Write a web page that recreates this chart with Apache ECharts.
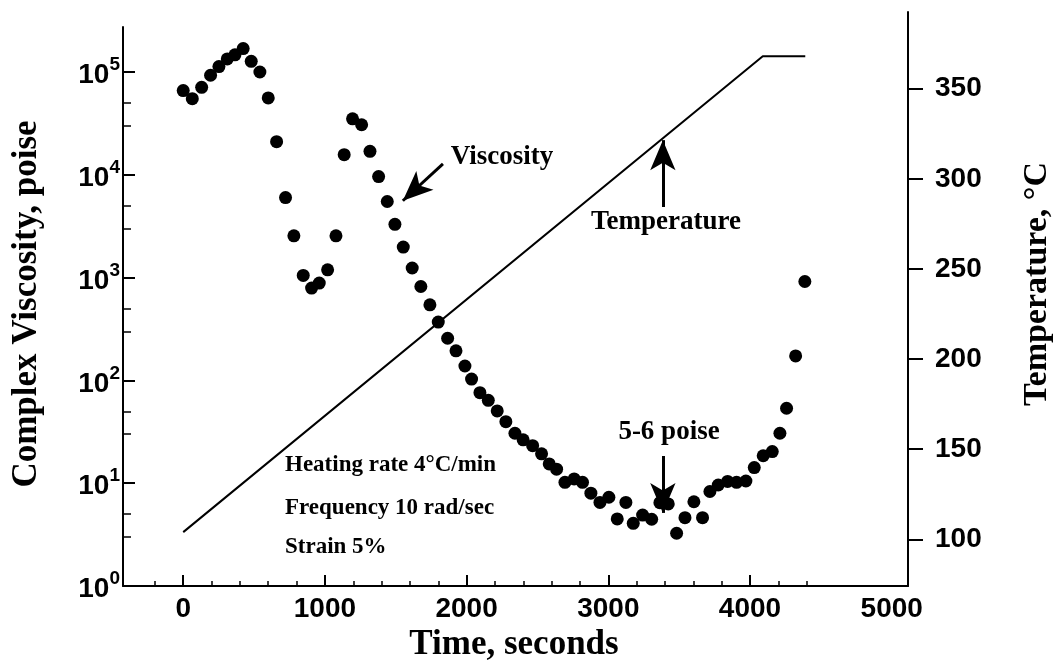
<!DOCTYPE html>
<html>
<head>
<meta charset="utf-8">
<script src="https://cdn.jsdelivr.net/npm/echarts@6/dist/echarts.min.js"></script>
<style>
html,body{margin:0;padding:0;background:#fff;}
#chart{width:1057px;height:670px;}
</style>
</head>
<body>
<div id="chart"></div>
<script>
// ---- data ----
const times = [0,64,130,193,252,311,365,423,480,541,600,659,722,781,847,906,960,1019,1078,1136,1195,1259,1318,1379,1440,1494,1553,1616,1677,1741,1800,1866,1925,1988,2035,2094,2153,2216,2277,2341,2399,2466,2529,2583,2635,2694,2759,2818,2877,2941,3004,3063,3124,3176,3242,3306,3364,3423,3482,3541,3604,3665,3717,3776,3842,3905,3971,4030,4093,4157,4211,4258,4322,4387];
const viscosity = [66000,55000,71000,93000,113000,134000,147000,169000,127000,100000,56000,21000,6000,2550,1050,790,884,1190,2550,15700,35000,30700,16900,9600,5500,3300,1980,1240,819,543,369,257,194,138,103,76,64,50.5,39.7,30.6,26.4,23.2,19.3,15.4,13.7,10.2,11.0,10.2,8.0,6.5,7.3,4.49,6.5,4.07,4.9,4.46,6.47,6.28,3.26,4.62,6.6,4.62,8.3,9.6,10.4,10.2,10.5,14.2,18.5,20.3,30.6,53.6,173,916];
const tempTime = [0,4090,4390];
const tempValue = [104,368,368];

const xLabelValues = [0,1000,2000,3000,4000,5000];
const xMajorTicks = [0,1000,2000,3000,4000];
const xMinorTicks = [-200,200,400,600,800,1200,1400,1600,1800,2200,2400,2600,2800,3200,3400,3600,3800,4200,4400];
const yLabelValues = [1,10,100,1000,10000,100000];
const yMinorTicks = [3,5,30,50,300,500,3000,5000,30000,50000];
const tempLabelValues = [100,150,200,250,300,350];

// annotation arrows (data coordinates: start, tip)
const viscArrow = [[1833,12800],[1550,5590]];
const poiseArrow = [[3385,18.4],[3385,5.14]];
const tempArrow = [[3385,284.4],[3385,321.5]];

const X_MIN = -425, X_MAX = 5115;
const Y_MIN = 1, Y_MAX = 274000;
const T_MIN = 74.1, T_MAX = 392.6;

const black = '#000';
const labelFont = {color:black, fontFamily:'Liberation Sans', fontWeight:'bold', fontSize:28};

const chart = echarts.init(document.getElementById('chart'), null, {renderer:'canvas'});

function arrowLine(pair){
  return [{coord: pair[0]}, {coord: pair[1]}];
}
const markLineBase = {
  silent: true,
  animation: false,
  symbol: ['none','arrow'],
  symbolSize: [19, 30],
  label: {show:false},
  lineStyle: {color: black, width: 3, type: 'solid'},
  emphasis: {disabled: true}
};

function tickAxisX(values, len, width){
  return {
    gridIndex:0, type:'value', min:X_MIN, max:X_MAX, position:'bottom',
    axisLine:{show:false, onZero:false},
    axisTick:{show:true, inside:true, length:len, customValues:values, lineStyle:{color:black, width:width}},
    axisLabel:{show:false},
    splitLine:{show:false}
  };
}
function tickAxisY(values, len, width){
  return {
    gridIndex:0, type:'log', logBase:10, min:Y_MIN, max:Y_MAX, position:'left',
    axisLine:{show:false, onZero:false},
    axisTick:{show:true, inside:true, length:len, customValues:values, lineStyle:{color:black, width:width}},
    axisLabel:{show:false},
    splitLine:{show:false}
  };
}

const option = {
  animation: false,
  backgroundColor: '#fff',
  grid: [
    {left:123, right:149, top:27, bottom:84, outerBoundsMode:'none', containLabel:false},
    {left:123, right:149, top:12, bottom:84, outerBoundsMode:'none', containLabel:false}
  ],
  xAxis: [
    {
      gridIndex:0, type:'value', min:X_MIN, max:X_MAX, position:'bottom',
      axisLine:{show:true, onZero:false, lineStyle:{color:black, width:2}},
      axisTick:{show:false},
      axisLabel:Object.assign({show:true, margin:9, lineHeight:28, customValues:xLabelValues,
        formatter:function(v){ return String(v); }}, labelFont),
      splitLine:{show:false}
    },
    tickAxisX(xMajorTicks, 11, 2),
    tickAxisX(xMinorTicks, 5, 1.5),
    {
      gridIndex:1, type:'value', min:X_MIN, max:X_MAX, show:false
    }
  ],
  yAxis: [
    {
      gridIndex:0, type:'log', logBase:10, min:Y_MIN, max:Y_MAX, position:'left',
      axisLine:{show:true, onZero:false, lineStyle:{color:black, width:2}},
      axisTick:{show:false},
      axisLabel:{
        show:true, margin:3, customValues:yLabelValues, padding:[7,0,0,0],
        formatter:function(v){ return '{b|10}{sup|' + Math.round(Math.log10(v)) + '}'; },
        rich:{
          b:{color:black, fontFamily:'Liberation Sans', fontWeight:'bold', fontSize:28, lineHeight:40},
          sup:{color:black, fontFamily:'Liberation Sans', fontWeight:'bold', fontSize:19, lineHeight:19, verticalAlign:'top'}
        }
      },
      splitLine:{show:false}
    },
    tickAxisY(yLabelValues, 12, 2),
    tickAxisY(yMinorTicks, 8, 1.5),
    {
      gridIndex:1, type:'value', min:T_MIN, max:T_MAX, position:'right',
      axisLine:{show:true, onZero:false, lineStyle:{color:black, width:2}},
      axisTick:{show:true, inside:false, length:15, customValues:tempLabelValues, lineStyle:{color:black, width:2}},
      axisLabel:Object.assign({show:true, margin:27, customValues:tempLabelValues, padding:[7,0,0,0]}, labelFont),
      splitLine:{show:false}
    }
  ],
  series: [
    {
      name:'Viscosity', type:'scatter', xAxisIndex:0, yAxisIndex:0,
      data: times.map((t,i)=>[t, viscosity[i]]),
      symbol:'circle', symbolSize:13,
      itemStyle:{color:black, opacity:1},
      emphasis:{disabled:true},
      markLine: Object.assign({}, markLineBase, {data:[arrowLine(viscArrow), arrowLine(poiseArrow)]}),
      z:3
    },
    {
      name:'Temperature', type:'line', xAxisIndex:3, yAxisIndex:3,
      data: tempTime.map((t,i)=>[t, tempValue[i]]),
      showSymbol:false, symbol:'none',
      lineStyle:{color:black, width:2},
      emphasis:{disabled:true},
      markLine: Object.assign({}, markLineBase, {data:[arrowLine(tempArrow)]}),
      z:2
    }
  ],
  graphic: [
    {type:'text', x:27, y:304, rotation:Math.PI/2,
      style:{text:'Complex Viscosity, poise', font:'bold 35px "Liberation Serif"', fill:black, textAlign:'center', textVerticalAlign:'middle'}},
    {type:'text', x:1037, y:284, rotation:Math.PI/2,
      style:{text:'Temperature, °C', font:'bold 34px "Liberation Serif"', fill:black, textAlign:'center', textVerticalAlign:'middle'}},
    {type:'text', x:514, y:645,
      style:{text:'Time, seconds', font:'bold 35px "Liberation Serif"', fill:black, textAlign:'center', textVerticalAlign:'middle'}},
    {type:'text', x:502, y:157,
      style:{text:'Viscosity', font:'bold 27px "Liberation Serif"', fill:black, textAlign:'center', textVerticalAlign:'middle'}},
    {type:'text', x:666, y:222,
      style:{text:'Temperature', font:'bold 27px "Liberation Serif"', fill:black, textAlign:'center', textVerticalAlign:'middle'}},
    {type:'text', x:669, y:432,
      style:{text:'5-6 poise', font:'bold 27px "Liberation Serif"', fill:black, textAlign:'center', textVerticalAlign:'middle'}},
    {type:'text', x:285, y:465,
      style:{text:'Heating rate 4°C/min', font:'bold 23px "Liberation Serif"', fill:black, textAlign:'left', textVerticalAlign:'middle'}},
    {type:'text', x:285, y:508,
      style:{text:'Frequency 10 rad/sec', font:'bold 23px "Liberation Serif"', fill:black, textAlign:'left', textVerticalAlign:'middle'}},
    {type:'text', x:285, y:547,
      style:{text:'Strain 5%', font:'bold 23px "Liberation Serif"', fill:black, textAlign:'left', textVerticalAlign:'middle'}}
  ]
};
chart.setOption(option);
</script>
</body>
</html>
